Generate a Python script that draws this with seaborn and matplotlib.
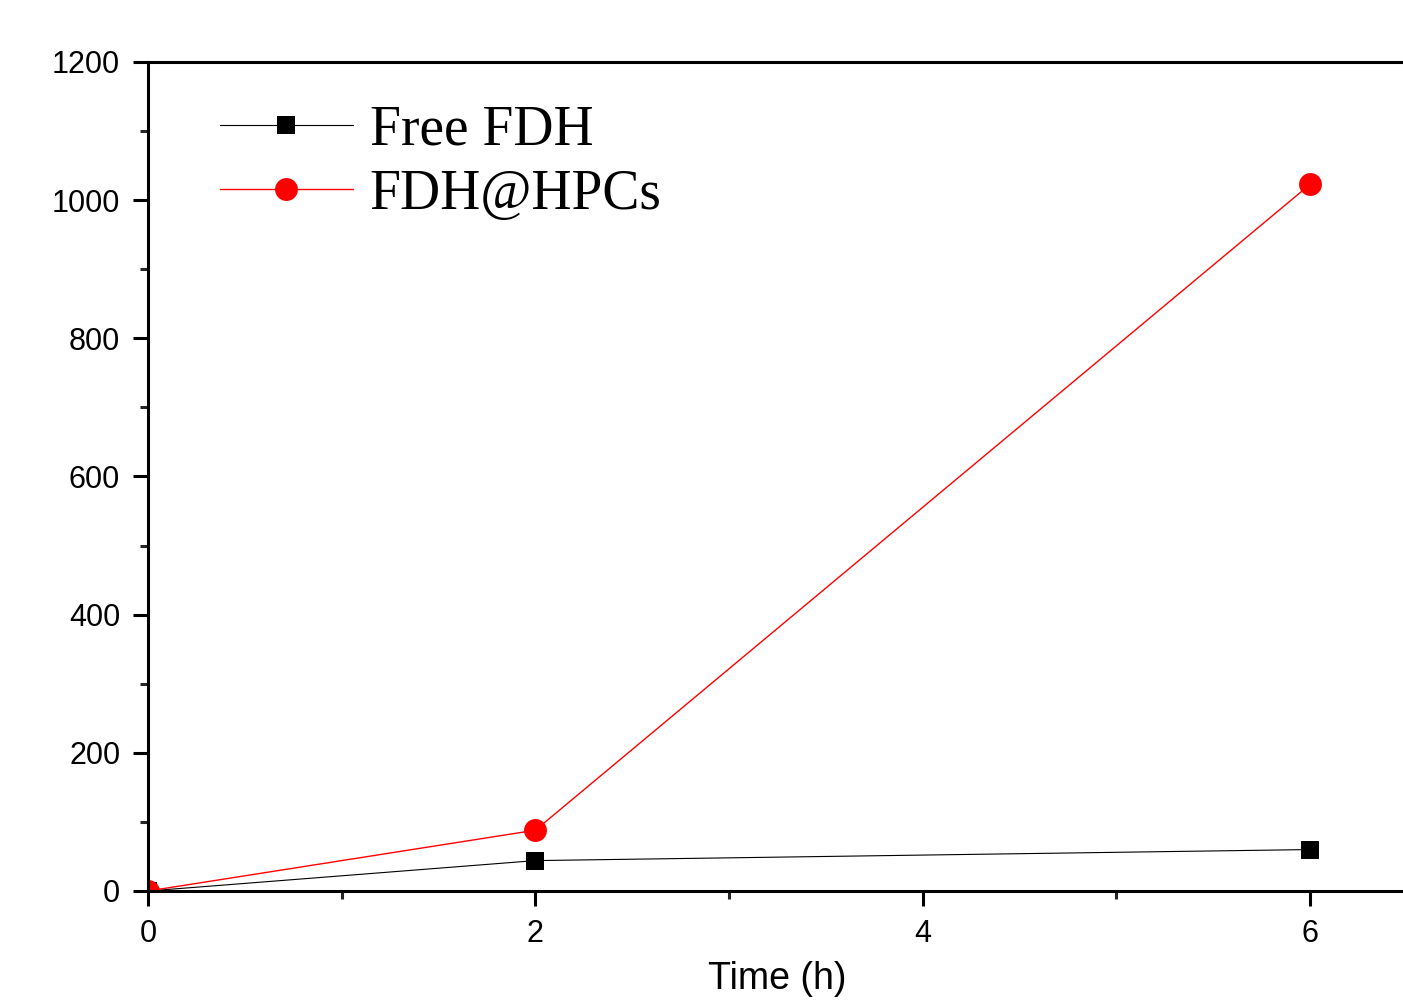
import matplotlib
matplotlib.use("Agg")
import matplotlib.pyplot as plt
import seaborn as sns
import pandas as pd
from matplotlib.ticker import MultipleLocator

# ---- data ----
time_h = [0, 2, 6]
free_fdh = [0, 44, 60]
fdh_hpcs = [0, 88, 1023]
series_names = ["Free FDH", "FDH@HPCs"]
x_ticks = [0, 2, 4, 6]
y_ticks = [0, 200, 400, 600, 800, 1000, 1200]

df = pd.DataFrame({
    "Time (h)": time_h * 2,
    "value": free_fdh + fdh_hpcs,
    "series": [series_names[0]] * len(time_h) + [series_names[1]] * len(time_h),
})

sns.set_style("ticks")
plt.rcParams["font.family"] = ["Liberation Sans", "DejaVu Sans"]
plt.rcParams["text.color"] = "black"
plt.rcParams["axes.labelcolor"] = "black"

fig = plt.figure(figsize=(14.03, 10), dpi=100)
ax = fig.add_axes([148 / 1403, 109 / 1000, 1259 / 1403, 829 / 1000])

sns.lineplot(
    data=df, x="Time (h)", y="value", hue="series", style="series",
    palette={series_names[0]: "black", series_names[1]: "red"},
    markers={series_names[0]: "s", series_names[1]: "o"},
    dashes=False, legend=False, ax=ax, sort=False,
)

lines = ax.get_lines()
sizes = {0: 13, 1: 16.5}
widths = {0: 0.8, 1: 1.0}
for i, ln in enumerate(lines[:2]):
    c = ln.get_color()
    ln.set_markersize(sizes[i])
    ln.set_markeredgecolor(c)
    ln.set_markerfacecolor(c)
    ln.set_markeredgewidth(0)
    ln.set_linewidth(widths[i])
    ln.set_clip_on(True)
    ln.set_zorder(3 + i)

ax.set_xlim(0, 6.5)
ax.set_ylim(0, 1200)
ax.set_xticks(x_ticks)
ax.set_yticks(y_ticks)
ax.xaxis.set_minor_locator(MultipleLocator(1))
ax.yaxis.set_minor_locator(MultipleLocator(100))

for side in ["left", "bottom", "top", "right"]:
    ax.spines[side].set_visible(True)
    ax.spines[side].set_linewidth(2.2)
    ax.spines[side].set_color("black")
    ax.spines[side].set_zorder(6)

ax.tick_params(which="major", direction="out", length=11, width=2.2,
               labelsize=22, pad=9, top=False, right=False, colors="black")
ax.tick_params(which="minor", direction="out", length=5.5, width=2.2,
               top=False, right=False)

ax.set_xlabel("Time (h)", fontsize=27, labelpad=9)
ax.set_ylabel("")

leg = ax.legend(
    lines[:2], series_names, loc="upper left",
    bbox_to_anchor=(0.057, 0.949), borderaxespad=0, borderpad=0,
    frameon=False, handlelength=2.4, handletextpad=0.3,
    labelspacing=0.22, numpoints=1,
    prop={"family": ["Liberation Serif", "DejaVu Serif"], "size": 40},
)
for t in leg.get_texts():
    t.set_color("black")

fig.savefig("out.png", dpi=100)
